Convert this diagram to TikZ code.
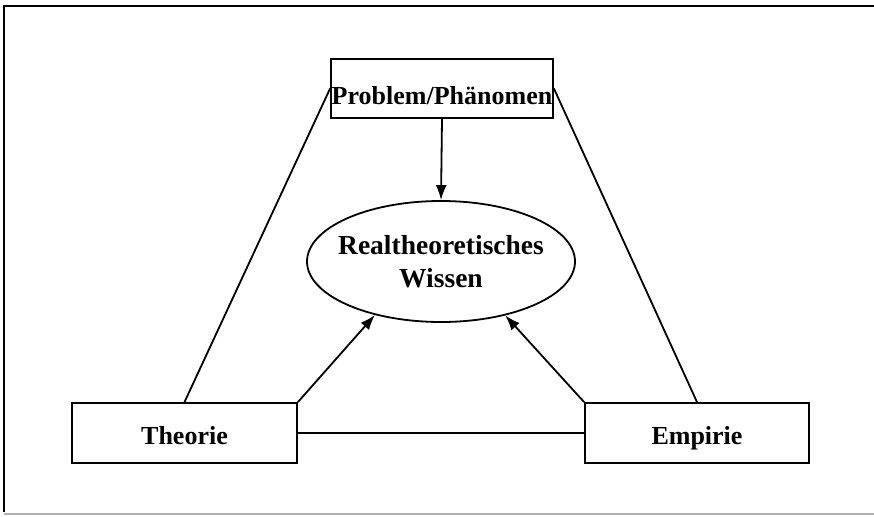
\documentclass[tikz,border=0pt]{standalone}
\usepackage{fontspec}
\setmainfont{Liberation Serif}
\usetikzlibrary{shapes.geometric,arrows.meta}

\begin{document}
\begin{tikzpicture}[x=1pt, y=-1pt, line width=1.8pt,
  kasten/.style={draw, rectangle, inner sep=0pt, text height=26pt, text depth=4pt, font=\fontsize{26}{31}\selectfont\bfseries},
  wolke/.style={draw, ellipse, inner ysep=0pt, inner xsep=-11pt, align=center, font=\fontsize{27.5}{33}\selectfont\bfseries}]
\useasboundingbox (0,0) rectangle (874,516);
% Rahmen
\draw[black] (4,512) -- (4,6) -- (874,6) ;
\draw[black!30] (4,514) -- (874,514) ;
% Knoten
\node[kasten, text height=34pt, text depth=2pt, minimum width=222, minimum height=59] (problem) at (442,88.5) {Problem/Phänomen};
\node[wolke, minimum width=268, minimum height=121] (wissen) at (441,261.5) {Realtheoretisches\\Wissen};
\node[kasten, minimum width=225, minimum height=60] (theorie) at (184.5,433) {Theorie};
\node[kasten, minimum width=224, minimum height=60] (empirie) at (697,433) {Empirie};
% Verbindungen
\draw[black] (problem.west) -- (theorie.north) ;
\draw[black] (problem.east) -- (empirie.north) ;
\draw[black] (theorie.east) -- (empirie.west) ;
\draw[black] [->] [>={Latex[length=15pt,width=11pt]}] (problem.south) -- (wissen.north);
\draw[black] [->] [>={Latex[length=15pt,width=11pt]}] (theorie.north east) -- (wissen.219);
\draw[black] [->] [>={Latex[length=15pt,width=11pt]}] (empirie.north west) -- (wissen.320);
\end{tikzpicture}
\end{document}
